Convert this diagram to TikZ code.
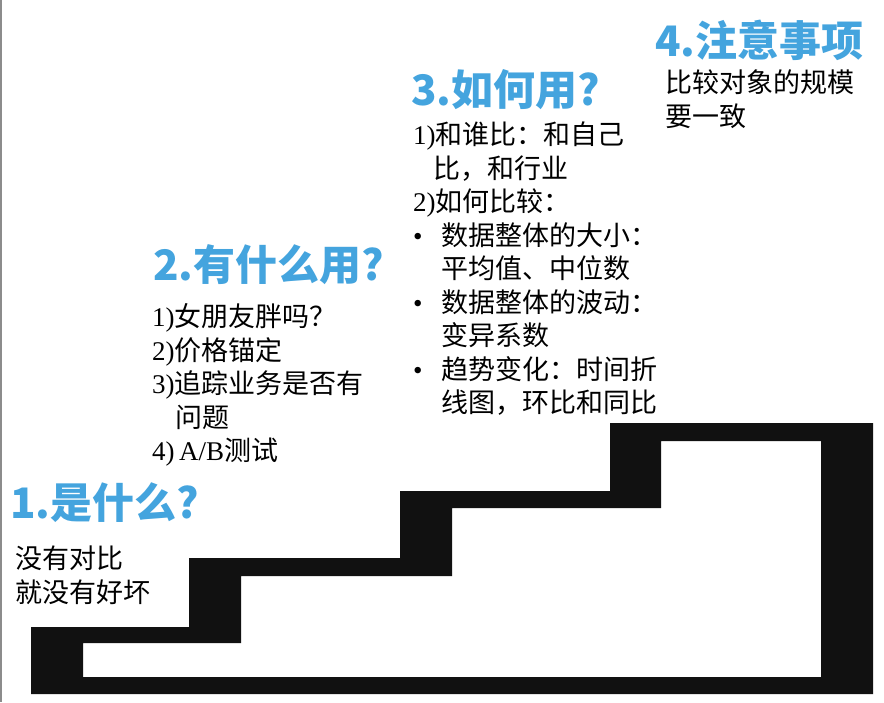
\documentclass[tikz,border=0pt]{standalone}
\usepackage{fontspec}
\setmainfont{Liberation Serif}
\newfontfamily\cjk{Noto Sans CJK SC}
\definecolor{headblue}{RGB}{68,164,222}
\definecolor{stairblack}{RGB}{17,17,17}
\newcommand{\itemdot}{\makebox[28pt][l]{\textrm{•}}}

\begin{document}
\begin{tikzpicture}[x=1pt, y=-1pt,
  head/.style={anchor=west, inner sep=0pt, text=headblue,
    font=\cjk\bfseries\fontsize{42}{46}\selectfont},
  body/.style={anchor=west, inner sep=0pt, align=left,
    font=\cjk\fontsize{27}{33.5}\selectfont}]
\useasboundingbox (0,0) rectangle (884,702);
\fill[white] (0,0) rectangle (884,702);
\draw[black!45, line width=1.5pt] (1,0) -- (1,702);
% ---- staircase ----
\fill[stairblack, even odd rule]
  (31,694) -- (31,627) -- (189,627) -- (189,558) -- (400,558) -- (400,491)
  -- (610,491) -- (610,423) -- (873,423) -- (873,694) -- cycle
  (83,677) -- (83,643) -- (241,643) -- (241,576) -- (452,576) -- (452,508)
  -- (661,508) -- (661,441) -- (821,441) -- (821,677) -- cycle;
% ---- step 1 ----
\node[head] (head1) at (10,503) {1.是什么?};
\node[body] (text1) at (15,575) {没有对比\\就没有好坏};
% ---- step 2 ----
\node[head] (head2) at (153,265) {2.有什么用?};
\node[body] (text2) at (152,385)
  {\textrm{1)}女朋友胖吗？\\
   \textrm{2)}价格锚定\\
   \textrm{3)}追踪业务是否有\\
   \hspace*{23pt}问题\\
   \textrm{4)\,A/B}测试};
% ---- step 3 ----
\node[head] (head3) at (411,90) {3.如何用?};
\node[body] (text3) at (413,269)
  {\textrm{1)}和谁比：和自己\\
   \hspace*{20pt}比，和行业\\
   \textrm{2)}如何比较：\\
   \itemdot 数据整体的大小：\\
   \hspace*{28pt}平均值、中位数\\
   \itemdot 数据整体的波动：\\
   \hspace*{28pt}变异系数\\
   \itemdot 趋势变化：时间折\\
   \hspace*{28pt}线图，环比和同比};
% ---- step 4 ----
\node[head] (head4) at (655,40) {4.注意事项};
\node[body] (text4) at (665,99) {比较对象的规模\\要一致};
\end{tikzpicture}
\end{document}
